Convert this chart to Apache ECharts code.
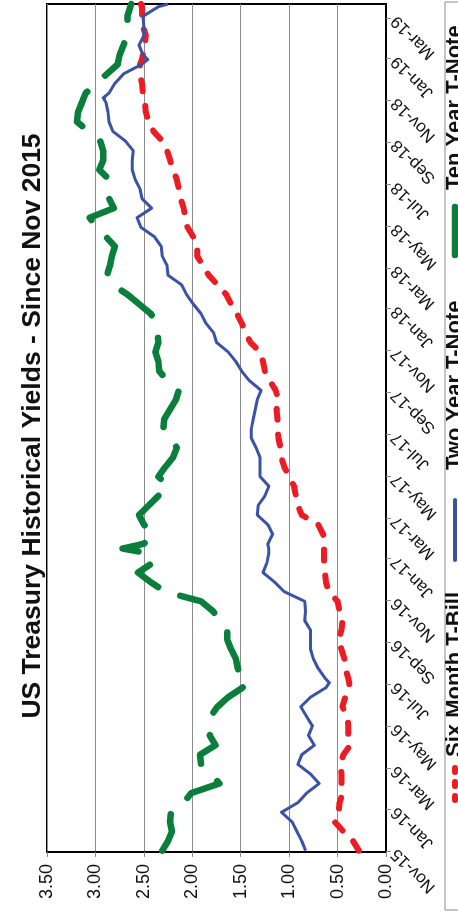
<!DOCTYPE html>
<html>
<head>
<meta charset="utf-8">
<script src="https://cdn.jsdelivr.net/npm/echarts@6/dist/echarts.min.js"></script>
<style>
  html, body { margin: 0; padding: 0; background: #fff; overflow: hidden; width: 458px; height: 913px; }
  /* the chart is laid out landscape and turned a quarter turn counter-clockwise */
  #chart { position: absolute; left: 0; top: 0; width: 913px; height: 458px;
           transform-origin: 0 0; transform: translate(0, 913px) rotate(-90deg); }
</style>
</head>
<body>
<div id="chart"></div>
<script>
// observation dates, roughly every two weeks, plus a few turning points
const dates = [
  '2015-11-02','2015-11-16','2015-11-30','2015-12-14','2015-12-28',
  '2016-01-11','2016-01-25','2016-02-08','2016-02-22','2016-03-07','2016-03-21','2016-04-04','2016-04-18',
  '2016-05-02','2016-05-16','2016-05-30','2016-06-13','2016-06-27','2016-07-04','2016-07-11','2016-07-25',
  '2016-08-08','2016-08-22','2016-09-05','2016-09-19','2016-10-03','2016-10-17','2016-10-31','2016-11-14',
  '2016-11-28','2016-12-12','2016-12-26',
  '2017-01-09','2017-01-16','2017-01-23','2017-02-06','2017-02-20','2017-03-06','2017-03-20','2017-04-03',
  '2017-04-17','2017-05-01','2017-05-15','2017-05-29','2017-06-12','2017-06-26','2017-07-10','2017-07-24',
  '2017-08-07','2017-08-21','2017-09-04','2017-09-18','2017-10-02','2017-10-16','2017-10-30','2017-11-13',
  '2017-11-27','2017-12-11','2017-12-25',
  '2018-01-08','2018-01-22','2018-02-05','2018-02-19','2018-03-05','2018-03-19','2018-04-02','2018-04-16',
  '2018-04-30','2018-05-14','2018-05-28','2018-06-11','2018-06-25','2018-07-09','2018-07-23','2018-08-06',
  '2018-08-20','2018-09-03','2018-09-17','2018-10-01','2018-10-15','2018-10-29','2018-11-05','2018-11-12',
  '2018-11-26','2018-12-10','2018-12-24','2018-12-31',
  '2019-01-07','2019-01-21','2019-02-04','2019-02-18','2019-03-04','2019-03-18','2019-03-22'
];

// yields in percent, one value per date above
const sixMonthBill = [
  0.28,0.34,0.44,0.53,0.49,
  0.48,0.45,0.46,0.46,0.47,0.44,0.37,0.39,
  0.39,0.40,0.45,0.42,0.38,0.38,0.39,0.42,
  0.43,0.46,0.49,0.46,0.45,0.48,0.50,0.59,
  0.62,0.63,0.64,
  0.64,0.64,0.63,0.65,0.70,0.87,0.91,0.93,
  0.95,1.00,1.05,1.08,1.09,1.11,1.12,1.12,
  1.13,1.11,1.14,1.20,1.25,1.27,1.30,1.40,
  1.45,1.49,1.54,
  1.60,1.65,1.74,1.83,1.89,1.95,1.95,1.99,
  2.05,2.07,2.09,2.12,2.14,2.16,2.20,2.23,
  2.26,2.31,2.40,2.45,2.48,2.49,2.50,2.51,
  2.52,2.54,2.54,2.52,
  2.51,2.49,2.48,2.51,2.52,2.52,2.53
];
const twoYearNote = [
  0.83,0.87,0.92,0.97,1.08,
  0.91,0.82,0.69,0.78,0.91,0.87,0.74,0.80,
  0.76,0.82,0.88,0.78,0.62,0.585,0.63,0.70,
  0.75,0.78,0.78,0.78,0.84,0.83,0.84,1.05,
  1.15,1.27,1.23,
  1.21,1.21,1.22,1.17,1.22,1.33,1.32,1.25,
  1.21,1.30,1.30,1.30,1.34,1.39,1.39,1.37,
  1.35,1.33,1.29,1.41,1.49,1.55,1.63,1.75,
  1.78,1.86,1.91,
  1.99,2.06,2.11,2.25,2.26,2.31,2.32,2.39,
  2.53,2.57,2.42,2.52,2.54,2.59,2.62,2.62,
  2.61,2.69,2.82,2.86,2.87,2.89,2.92,2.86,
  2.80,2.71,2.52,2.46,
  2.51,2.55,2.50,2.50,2.51,2.35,2.25
];
const tenYearNote = [
  2.31,2.25,2.21,2.23,2.22,
  2.09,2.01,1.72,1.81,1.91,1.92,1.76,1.82,
  1.79,1.81,1.74,1.63,1.48,1.43,1.50,1.53,
  1.55,1.60,1.64,1.64,1.71,1.79,1.91,2.28,
  2.43,2.56,2.41,
  2.45,2.72,2.50,2.41,2.50,2.55,2.45,2.35,
  2.25,2.35,2.28,2.20,2.16,2.21,2.30,2.29,
  2.23,2.17,2.14,2.26,2.34,2.35,2.38,2.35,
  2.36,2.37,2.43,
  2.55,2.67,2.82,2.88,2.85,2.83,2.80,2.89,
  2.99,3.06,2.81,2.86,2.87,2.86,2.96,2.92,
  2.92,2.95,3.07,3.19,3.18,3.14,3.12,3.10,
  2.99,2.88,2.77,2.76,
  2.75,2.71,2.68,2.67,2.67,2.64,2.63
];

// date axis tick marks, every other month
const monthTicks = [
  '2015-11-01','2016-01-01','2016-03-01','2016-05-01','2016-07-01','2016-09-01','2016-11-01',
  '2017-01-01','2017-03-01','2017-05-01','2017-07-01','2017-09-01','2017-11-01',
  '2018-01-01','2018-03-01','2018-05-01','2018-07-01','2018-09-01','2018-11-01',
  '2019-01-01','2019-03-01'
];
const monthNames = ['Jan','Feb','Mar','Apr','May','Jun','Jul','Aug','Sep','Oct','Nov','Dec'];
const axisStart = '2015-10-31';
const axisEnd = '2019-03-22';

const seriesNames = ['Six Month T-Bill', 'Two Year T-Note', 'Ten Year T-Note'];
const seriesColors = ['#ED1C24', '#3A53A4', '#0A7F3C'];

const FONT = '"Liberation Sans", Arial, sans-serif';
const ts = d => echarts.time.parse(d).getTime();
const tickValues = monthTicks.map(ts);

function pairs(vals) { return dates.map((d, i) => [ts(d), vals[i]]); }

// legend drawn as a framed strip under the date labels
const legendY = 455;
const legendFont = 'bold 22px ' + FONT;
const legendGraphics = [
  { type: 'rect', silent: true, shape: { x: 3, y: 445, width: 908, height: 50 },
    style: { fill: 'none', stroke: '#8a8a8a', lineWidth: 1 } },
  { type: 'line', silent: true, shape: { x1: 113, y1: legendY, x2: 145, y2: legendY },
    style: { stroke: seriesColors[0], lineWidth: 6, lineDash: [4, 10], lineCap: 'round' } },
  { type: 'text', silent: true, x: 156, y: legendY,
    style: { text: seriesNames[0], font: legendFont, fill: '#111', verticalAlign: 'middle' } },
  { type: 'line', silent: true, shape: { x1: 353, y1: legendY, x2: 413, y2: legendY },
    style: { stroke: seriesColors[1], lineWidth: 4, lineCap: 'round' } },
  { type: 'text', silent: true, x: 443, y: legendY,
    style: { text: seriesNames[1], font: legendFont, fill: '#111', verticalAlign: 'middle' } },
  { type: 'line', silent: true, shape: { x1: 658, y1: legendY, x2: 706, y2: legendY },
    style: { stroke: seriesColors[2], lineWidth: 6.5, lineCap: 'round' } },
  { type: 'text', silent: true, x: 723, y: legendY,
    style: { text: seriesNames[2], font: legendFont, fill: '#111', verticalAlign: 'middle' } }
];

const chart = echarts.init(document.getElementById('chart'), null, { renderer: 'canvas' });

chart.setOption({
  backgroundColor: '#ffffff',
  animation: false,
  title: {
    text: 'US Treasury Historical Yields - Since Nov 2015',
    left: 482, top: 14, textAlign: 'center',
    textStyle: { fontFamily: FONT, fontSize: 26.5, fontWeight: 'bold', color: '#111' }
  },
  grid: {
    left: 61, right: 4, top: 47, bottom: 72,
    show: true, borderColor: '#000', borderWidth: 2, backgroundColor: 'transparent',
    containLabel: false
  },
  graphic: legendGraphics,
  xAxis: {
    type: 'value',
    min: ts(axisStart), max: ts(axisEnd),
    splitLine: { show: false },
    axisLine: { show: true, onZero: false, lineStyle: { color: '#000', width: 2 } },
    axisTick: { show: true, customValues: tickValues, length: 5, lineStyle: { color: '#888', width: 1 } },
    axisLabel: {
      customValues: tickValues,
      rotate: 45, margin: 8,
      fontFamily: FONT, fontSize: 17, color: '#111',
      formatter: v => {
        const d = new Date(v);
        return monthNames[d.getMonth()] + '-' + String(d.getFullYear()).slice(2);
      }
    }
  },
  yAxis: {
    type: 'value', min: 0, max: 3.5, interval: 0.5,
    axisLine: { show: true, lineStyle: { color: '#000', width: 2 } },
    axisTick: { show: true, length: 5, lineStyle: { color: '#888', width: 1 } },
    axisLabel: { margin: 12, fontFamily: FONT, fontSize: 18, color: '#111', formatter: v => v.toFixed(2) },
    splitLine: { show: true, lineStyle: { color: '#8c8c8c', width: 1 } }
  },
  series: [
    {
      name: seriesNames[0], type: 'line', data: pairs(sixMonthBill),
      showSymbol: false, symbol: 'none', z: 2,
      lineStyle: { color: seriesColors[0], width: 6, type: [11, 15], cap: 'round', join: 'round' }
    },
    {
      name: seriesNames[1], type: 'line', data: pairs(twoYearNote),
      showSymbol: false, symbol: 'none', z: 4,
      lineStyle: { color: seriesColors[1], width: 3, join: 'round' }
    },
    {
      name: seriesNames[2], type: 'line', data: pairs(tenYearNote),
      showSymbol: false, symbol: 'none', z: 3,
      lineStyle: { color: seriesColors[2], width: 6.5, type: [39, 24], cap: 'round', join: 'round' }
    }
  ]
});
</script>
</body>
</html>
